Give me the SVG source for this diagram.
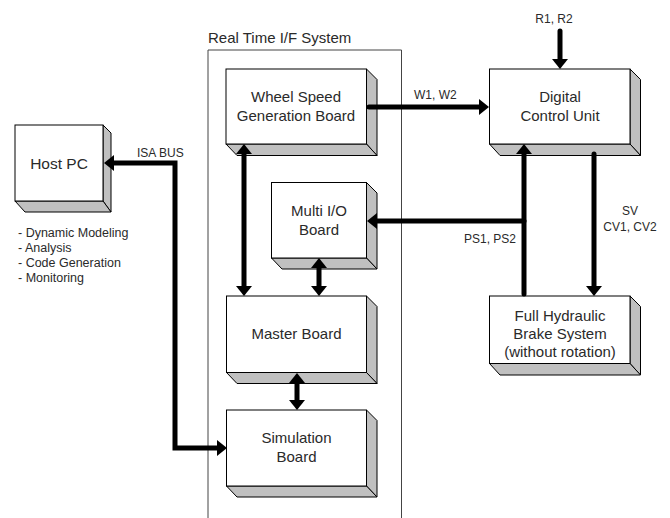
<svg xmlns="http://www.w3.org/2000/svg" width="670" height="518" viewBox="0 0 670 518">
<style>
  .front { fill: #ffffff; stroke: #000; stroke-width: 1; }
  .side { fill: #c0c0c0; stroke: #000; stroke-width: 1; stroke-linejoin: round; }
  .lbl { font-family: "Liberation Sans", Arial, sans-serif; font-size: 15px; fill: #2a2a2a; text-anchor: middle; }
  .sm { font-family: "Liberation Sans", Arial, sans-serif; font-size: 12px; fill: #2a2a2a; }
  .bul { font-family: "Liberation Sans", Arial, sans-serif; font-size: 12.5px; fill: #2a2a2a; }
  .frame { fill: none; stroke: #444; stroke-width: 1; }
  .conn { fill: none; stroke: #000; stroke-width: 5; stroke-linecap: round; stroke-linejoin: miter; }
</style>
<defs>
  <marker id="ah" viewBox="0 0 10 16" refX="0" refY="8" markerWidth="10" markerHeight="16" markerUnits="userSpaceOnUse" orient="auto-start-reverse">
    <path d="M0,0 L10,8 L0,16 Z" fill="#000"/>
  </marker>
</defs>
<rect width="670" height="518" fill="#ffffff"/>

<g id="frame">
  <path class="frame" d="M208,530 V50 H401.5 V530"/>
  <text class="sm" x="208" y="43" style="font-size:15px">Real Time I/F System</text>
</g>

<g id="host-pc">
  <polygon class="side" points="103,125 111,133 111,212 103,201"/>
  <polygon class="side" points="15,201 103,201 111,212 25,212"/>
  <rect class="front" x="15" y="125" width="88" height="76"/>
  <text class="lbl" x="59" y="169" style="font-size:15.5px">Host PC</text>
  <text class="bul" x="18" y="237">- Dynamic Modeling</text>
  <text class="bul" x="18" y="252">- Analysis</text>
  <text class="bul" x="18" y="267">- Code Generation</text>
  <text class="bul" x="18" y="282">- Monitoring</text>
</g>

<g id="wheel-speed">
  <polygon class="side" points="366.5,69 377,79.5 377,155.5 366.5,144"/>
  <polygon class="side" points="226,144 366.5,144 377,155.5 237,155.5"/>
  <rect class="front" x="226" y="69" width="140.5" height="75"/>
  <text class="lbl" x="296" y="102">Wheel Speed</text>
  <text class="lbl" x="296" y="121">Generation Board</text>
</g>

<g id="multi-io">
  <polygon class="side" points="366.5,182.5 377,193 377,269 366.5,258"/>
  <polygon class="side" points="271.5,258 366.5,258 377,269 282,269"/>
  <rect class="front" x="271.5" y="182.5" width="95" height="75.5"/>
  <text class="lbl" x="319" y="216">Multi I/O</text>
  <text class="lbl" x="319" y="235">Board</text>
</g>

<g id="master-board">
  <polygon class="side" points="366.5,296 377,306.5 377,383.5 366.5,372.5"/>
  <polygon class="side" points="226.5,372.5 366.5,372.5 377,383.5 237,383.5"/>
  <rect class="front" x="226.5" y="296" width="140" height="76.5"/>
  <text class="lbl" x="296.5" y="339">Master Board</text>
</g>

<g id="simulation-board">
  <polygon class="side" points="366.5,410 377,420.5 377,497 366.5,486"/>
  <polygon class="side" points="226.5,486 366.5,486 377,497 237,497"/>
  <rect class="front" x="226.5" y="410" width="140" height="76"/>
  <text class="lbl" x="296.5" y="443">Simulation</text>
  <text class="lbl" x="296.5" y="462">Board</text>
</g>

<g id="digital-control-unit">
  <polygon class="side" points="630,69 640.5,79.5 640.5,155.5 630,144"/>
  <polygon class="side" points="489.5,144 630,144 640.5,155.5 500,155.5"/>
  <rect class="front" x="489.5" y="69" width="140.5" height="75"/>
  <text class="lbl" x="560" y="102">Digital</text>
  <text class="lbl" x="560" y="121">Control Unit</text>
</g>

<g id="brake-system">
  <polygon class="side" points="630,296 640.5,306.5 640.5,375 630,363.5"/>
  <polygon class="side" points="489.5,363.5 630,363.5 640.5,375 500,375"/>
  <rect class="front" x="489.5" y="296" width="140.5" height="67.5"/>
  <text class="lbl" x="560" y="321">Full Hydraulic</text>
  <text class="lbl" x="560" y="339">Brake System</text>
  <text class="lbl" x="560" y="357">(without rotation)</text>
</g>

<g id="connectors">
  <path class="conn" d="M369,107 H479" marker-end="url(#ah)"/>
  <path class="conn" d="M560,31 V59" marker-end="url(#ah)"/>
  <path class="conn" d="M114,163 H175 V448 H217" marker-start="url(#ah)" marker-end="url(#ah)"/>
  <path class="conn" d="M244,154 V286" marker-start="url(#ah)" marker-end="url(#ah)"/>
  <path class="conn" d="M319,268 V286" marker-start="url(#ah)" marker-end="url(#ah)"/>
  <path class="conn" d="M297,383 V400" marker-start="url(#ah)" marker-end="url(#ah)"/>
  <path class="conn" d="M524,294 V154" marker-end="url(#ah)"/>
  <path class="conn" d="M524,221 H377" marker-end="url(#ah)"/>
  <path class="conn" d="M594,154 V286" marker-end="url(#ah)"/>
  <text class="sm" x="137" y="157">ISA BUS</text>
  <text class="sm" x="414" y="99">W1, W2</text>
  <text class="sm" x="554" y="23" text-anchor="middle">R1, R2</text>
  <text class="sm" x="516" y="243" text-anchor="end">PS1, PS2</text>
  <text class="sm" x="630" y="215" text-anchor="middle">SV</text>
  <text class="sm" x="630" y="231" text-anchor="middle">CV1, CV2</text>
</g>
</svg>
